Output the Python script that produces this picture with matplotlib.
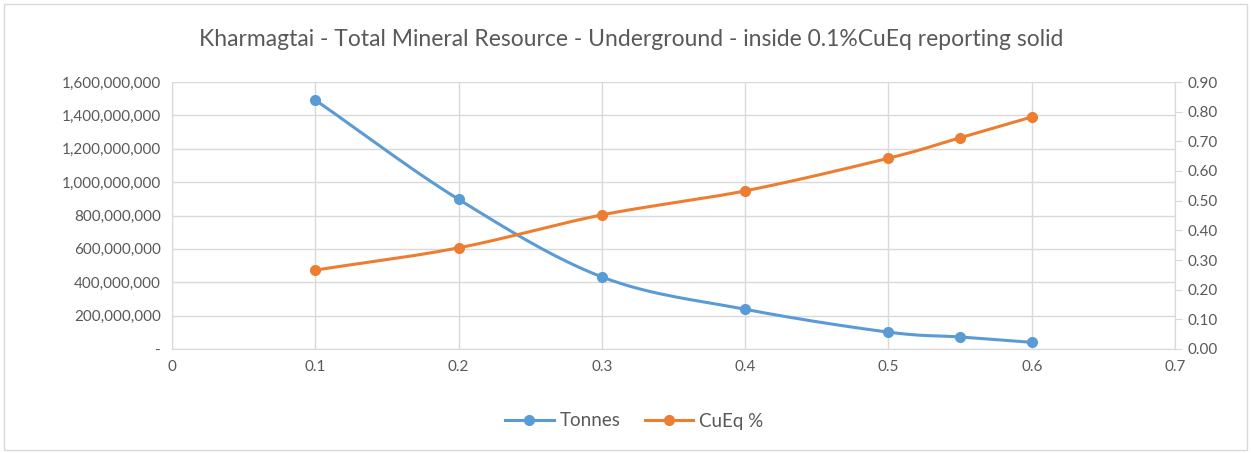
import numpy as np
import matplotlib
matplotlib.use("Agg")
import matplotlib.pyplot as plt
from matplotlib.ticker import FuncFormatter, MultipleLocator
from matplotlib.lines import Line2D
from matplotlib.patches import Rectangle

cutoff = [0.1, 0.2, 0.3, 0.4, 0.5, 0.55, 0.6]
tonnes = [1492e6, 897e6, 432e6, 238e6, 101e6, 72e6, 40e6]
cueq = [0.266, 0.341, 0.452, 0.533, 0.643, 0.712, 0.782]
title = "Kharmagtai - Total Mineral Resource - Underground - inside 0.1%CuEq reporting solid"

BLUE = "#5B9BD5"
ORANGE = "#ED7D31"
GRID = "#D9D9D9"
TXT = "#595959"

plt.rcParams['font.family'] = ['Lato', 'DejaVu Sans']


def smooth(x, y, n=30):
    x = np.asarray(x, float); y = np.asarray(y, float)
    px = np.concatenate([[2*x[0]-x[1]], x, [2*x[-1]-x[-2]]])
    py = np.concatenate([[2*y[0]-y[1]], y, [2*y[-1]-y[-2]]])
    xs, ys = [], []
    t = np.linspace(0, 1, n)
    for i in range(1, len(px)-2):
        p0, p1, p2, p3 = [np.array([px[j], py[j]]) for j in range(i-1, i+3)]
        c1 = p1 + (p2 - p0) / 6.0
        c2 = p2 - (p3 - p1) / 6.0
        for tt in t:
            pt = (1-tt)**3*p1 + 3*(1-tt)**2*tt*c1 + 3*(1-tt)*tt**2*c2 + tt**3*p2
            xs.append(pt[0]); ys.append(pt[1])
    return xs, ys


fig = plt.figure(figsize=(12.51, 4.53), dpi=100)
fig.patches.append(Rectangle((4/1251, 3/453), 1243/1251, 446/453, transform=fig.transFigure,
                             fill=False, edgecolor=GRID, linewidth=1))
ax = fig.add_axes([172/1251, 1-349/453, (1175-172)/1251, (349-82)/453])
ax2 = ax.twinx()

ax.set_xlim(0, 0.7)
ax.set_ylim(0, 1.6e9)
ax2.set_ylim(0, 0.9)
ax.xaxis.set_major_locator(MultipleLocator(0.1))
ax.yaxis.set_major_locator(MultipleLocator(2e8))
ax2.yaxis.set_major_locator(MultipleLocator(0.1))

ax.grid(True, color=GRID, linewidth=1)
ax.set_axisbelow(True)
ax.spines['top'].set_visible(False)
ax2.spines['top'].set_visible(False)
for a in (ax, ax2):
    for s in ['left', 'bottom', 'right']:
        a.spines[s].set_color(GRID)
ax2.spines['left'].set_visible(False)
ax2.spines['bottom'].set_visible(False)

def fmt_t(v, p):
    return "-" if v == 0 else f"{int(round(v)):,}"
ax.yaxis.set_major_formatter(FuncFormatter(fmt_t))
ax.xaxis.set_major_formatter(FuncFormatter(lambda v, p: "0" if abs(v) < 1e-9 else f"{v:.1f}"))
ax2.yaxis.set_major_formatter(FuncFormatter(lambda v, p: f"{v:.2f}"))

ax.tick_params(axis='both', length=0, labelsize=11, labelcolor=TXT, pad=8)
ax2.tick_params(axis='y', length=5, color=GRID, labelsize=11, labelcolor=TXT, pad=4)

ax2.set_zorder(ax.get_zorder() + 1)
ax2.patch.set_visible(False)
sx, sy = smooth(cutoff, tonnes)
ax.plot(sx, sy, color=BLUE, linewidth=2.2, zorder=3)
ax.plot(cutoff, tonnes, 'o', color=BLUE, markersize=7, zorder=4)
cx, cy = smooth(cutoff, cueq)
ax2.plot(cx, cy, color=ORANGE, linewidth=2.2, zorder=3)
ax2.plot(cutoff, cueq, 'o', color=ORANGE, markersize=7, zorder=4)

fig.text(631.5/1251, 1-40/453, title, ha='center', va='center', fontsize=16.5, color=TXT)

handles = [Line2D([0], [0], color=BLUE, linewidth=2.2, marker='o', markersize=7),
           Line2D([0], [0], color=ORANGE, linewidth=2.2, marker='o', markersize=7)]
fig.legend(handles, ["Tonnes", "CuEq %"], loc='center', bbox_to_anchor=(634/1251, 1-421/453),
           ncol=2, frameon=False, fontsize=13.5, labelcolor=TXT, handlelength=2.6,
           columnspacing=1.3, handletextpad=0.3)

fig.savefig("out.png", dpi=100)
